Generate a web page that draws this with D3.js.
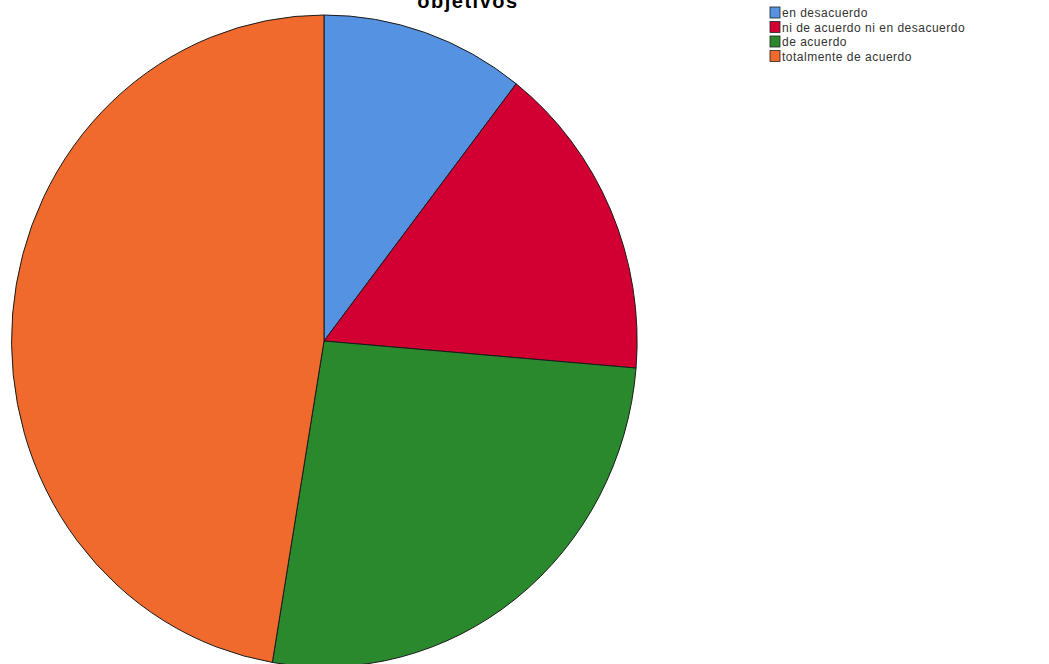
<!DOCTYPE html>
<html>
<head>
<meta charset="utf-8">
<script src="https://cdn.jsdelivr.net/npm/d3@7/dist/d3.min.js"></script>
<style>
  html, body { margin: 0; padding: 0; background: #fff; }
  svg { display: block; }
</style>
</head>
<body>
<svg id="chart" width="1049" height="664"></svg>
<script>
// Response categories and their counts
const categories = ["en desacuerdo", "ni de acuerdo ni en desacuerdo", "de acuerdo", "totalmente de acuerdo"];
const counts = [8, 12, 20, 36];
const colors = ["#5592e2", "#d20032", "#2b892d", "#f06a2e"];
const title = "objetivos";

const svg = d3.select("#chart");

// Pie drawn on a unit circle, stretched to the plot ellipse
const cx = 324, cy = 341, rx = 313, ry = 326;

const color = d3.scaleOrdinal().domain(categories).range(colors);
const pie = d3.pie().sort(null).value(d => d.value).startAngle(0).endAngle(2 * Math.PI);
const arc = d3.arc().innerRadius(0).outerRadius(1);

const data = categories.map((c, i) => ({ name: c, value: counts[i] }));

const g = svg.append("g").attr("transform", `translate(${cx},${cy}) scale(${rx},${ry})`);
g.selectAll("path.slice")
  .data(pie(data))
  .join("path")
  .attr("class", "slice")
  .attr("d", arc)
  .attr("fill", d => color(d.data.name))
  .attr("stroke", "#1a1a1a")
  .attr("stroke-width", 1)
  .attr("vector-effect", "non-scaling-stroke");

// Title (runs off the top edge)
svg.append("text")
  .attr("x", 468).attr("y", 8)
  .attr("text-anchor", "middle")
  .attr("font-family", "Liberation Sans, Arial, sans-serif")
  .attr("font-weight", "bold")
  .attr("font-size", 20)
  .attr("letter-spacing", 1.5)
  .attr("fill", "#000")
  .text(title);

// Legend
const legend = svg.append("g").attr("transform", "translate(770,7)");
const rowH = 14.5;
const item = legend.selectAll("g.item")
  .data(categories)
  .join("g")
  .attr("class", "item")
  .attr("transform", (d, i) => `translate(0,${i * rowH})`);
item.append("rect")
  .attr("x", 0).attr("y", 0)
  .attr("width", 10).attr("height", 11)
  .attr("fill", d => color(d))
  .attr("stroke", "#222")
  .attr("stroke-width", 0.8);
item.append("text")
  .attr("x", 12).attr("y", 10)
  .attr("font-family", "Liberation Sans, Arial, sans-serif")
  .attr("font-size", 12)
  .attr("letter-spacing", 0.5)
  .attr("fill", "#333")
  .text(d => d);
</script>
</body>
</html>
